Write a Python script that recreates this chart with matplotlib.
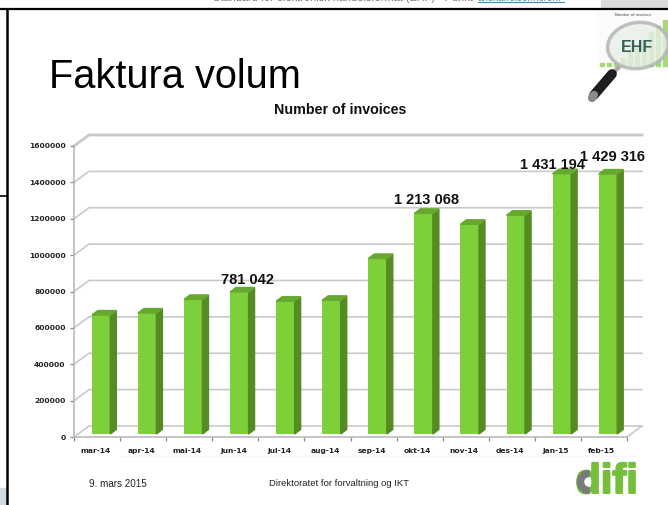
import matplotlib
matplotlib.use("Agg")
import matplotlib.pyplot as plt
import matplotlib.patheffects as pe
from matplotlib.patches import Ellipse, Rectangle, Wedge, Polygon

months = ["mar-14", "apr-14", "mai-14", "jun-14", "jul-14", "aug-14",
          "sep-14", "okt-14", "nov-14", "des-14", "jan-15", "feb-15"]
invoices = [654000, 665000, 740000, 781042, 730000, 735000,
            965000, 1213068, 1153000, 1203000, 1431194, 1429316]
y_ticks = [0, 200000, 400000, 600000, 800000, 1000000, 1200000, 1400000, 1600000]

# only these bars carry a label, with the offset (px) they were dragged to in the slide
labelled = {"jun-14": "781 042", "okt-14": "1 213 068", "jan-15": "1 431 194", "feb-15": "1 429 316"}
label_shift = {"jun-14": (8, 12), "okt-14": (3, 13), "jan-15": (-9, 9), "feb-15": (5, 17)}

W, H = 668, 505
LEFT, RIGHT, BOTTOM, TOP = 74, 627, 437, 146
GRID = "#c9c9c9"
FRONT, SIDE, CAP = "#7ed03a", "#558b23", "#67a92e"

plt.rcParams["font.family"] = ["Liberation Sans", "DejaVu Sans"]


def draw_page(page):
    # slide frame and the bits of the document around it
    page.plot([7, 7], [9, 505], color="black", lw=1.8)
    page.plot([0, 668], [9, 9], color="black", lw=1.6)
    page.plot([0, 7], [196, 196], color="black", lw=1.2)
    page.add_patch(Rectangle((0, 488), 6, 17, color="#d3d9e3"))
    page.add_patch(Rectangle((601, 0), 67, 8, color="#dcdcdc"))
    page.plot([121, 635], [456, 456], color="#f6f6f6", lw=1)

    page.text(213, -2, "Standard for elektronisk handelsformat (EHF) - Punkt", fontsize=7.9,
              color="#777777", va="center", ha="left", clip_on=True)
    page.text(478, -2, "anskaffelser.no/ehf", fontsize=7.2, color="#4a8ab0", va="center", clip_on=True)
    page.plot([478, 564], [2, 2], color="#4a8ab0", lw=0.8)

    page.text(49, 88, "Faktura volum", fontsize=28.6, color="black", va="baseline")
    page.text(340, 110, "Number of invoices", fontsize=10.3, fontweight="bold", color="#111111",
              ha="center", va="center")
    page.text(89, 484, "9. mars 2015", fontsize=7.1, color="#222222", va="center")
    page.text(269, 484, "Direktoratet for forvaltning og IKT", fontsize=6.8, color="#222222", va="center")


def draw_magnifier(page):
    # small faded chart behind the glass
    page.add_patch(Rectangle((597, 12), 71, 58, color="#fbfbfb", zorder=1))
    page.text(633, 15, "Number of invoices", fontsize=2.8, fontweight="bold", color="#777777",
              ha="center", va="center", zorder=1)
    for i, h in enumerate([3, 3, 3, 8, 14, 20, 26, 34, 40, 46]):
        page.add_patch(Rectangle((600 + i * 7, 66 - h), 3.5, h, color="#a9d97f", zorder=1))
    page.add_patch(Ellipse((638, 45.5), 61, 46, angle=-8, facecolor="#e9efe9", edgecolor="#b0b0b0",
                           lw=2.5, alpha=0.78, zorder=2))
    page.plot([618, 611], [68, 75], color="#a8a8a8", lw=3, zorder=3)
    page.plot([612, 594], [74, 95], color="#1e1e1e", lw=7, solid_capstyle="round", zorder=3)
    page.plot([594, 592], [95, 98], color="#8a8a8a", lw=6, solid_capstyle="round", zorder=4)
    page.text(637, 48, "EHF", fontsize=11.5, fontweight="bold", color="#33605a",
              ha="center", va="center", zorder=5)


def draw_logo(page):
    logo = page.text(638, 493, "difi", fontsize=30, fontweight="bold",
                     color="#75bf3a", ha="right", va="baseline")
    logo.set_path_effects([pe.withStroke(linewidth=1.4, foreground="#75bf3a")])
    page.add_patch(Wedge((589, 482), 11.5, 90, 270, width=6, color="#7a7a7a", zorder=4))


def draw_chart(ax):
    ax.set_xlim(-0.5, len(months) - 0.5)
    ax.set_ylim(0, y_ticks[-1])

    # px -> data units
    ux = len(months) / (RIGHT - LEFT)
    uy = y_ticks[-1] / (BOTTOM - TOP)
    wall_x, wall_y = 15 * ux, 11 * uy
    x0, x1 = -0.5, len(months) - 0.5

    for v in y_ticks:
        lw = 2 if v == y_ticks[-1] else 1.2
        ax.plot([x0, x0 + wall_x, x1 + wall_x], [v, v + wall_y, v + wall_y],
                color=GRID, lw=lw, clip_on=False, zorder=1, solid_joinstyle="miter")
    ax.plot([x1, x1 + wall_x], [0, wall_y], color=GRID, lw=1.2, clip_on=False, zorder=1)

    shift = 4 * ux
    width = 18.5 * ux
    side_x, side_y = 6 * ux, 4.5 * uy
    lift = 3 * uy
    xs = [i + shift for i in range(len(months))]

    ax.bar(xs, invoices, width=width, bottom=lift, color=FRONT, zorder=3)
    for x, v in zip(xs, invoices):
        r = x + width / 2
        l = x - width / 2
        top = v + lift
        ax.add_patch(Polygon([(r, lift), (r + side_x, lift + side_y), (r + side_x, top + side_y), (r, top)],
                             closed=True, color=SIDE, zorder=3, clip_on=False))
        ax.add_patch(Polygon([(l, top), (l + side_x, top + side_y), (r + side_x, top + side_y), (r, top)],
                             closed=True, color=CAP, zorder=3, clip_on=False))

    for x, month, v in zip(xs, months, invoices):
        if month in labelled:
            dx, dy = label_shift[month]
            ax.annotate(labelled[month], (x, v + lift), xytext=(dx, dy),
                        textcoords="offset pixels", fontsize=10.5, fontweight="bold",
                        color="#111111", ha="center", va="center", zorder=6, annotation_clip=False)

    for side in ["top", "right"]:
        ax.spines[side].set_visible(False)
    for side in ["left", "bottom"]:
        ax.spines[side].set_color("#b5b5b5")
        ax.spines[side].set_linewidth(1.1)
    ax.patch.set_alpha(0)

    ax.set_yticks(y_ticks)
    ax.set_yticklabels([str(v) for v in y_ticks], fontsize=5.4, fontweight="bold",
                       family="DejaVu Sans", color="#222222")
    ax.set_xticks([i - 0.5 for i in range(len(months) + 1)])
    ax.set_xticklabels([])
    ax.tick_params(axis="both", length=3, width=0.9, color="#8a8a8a", pad=3)
    for i, month in enumerate(months):
        ax.annotate(month, (i, 0), xytext=(-2, -14), textcoords="offset pixels", fontsize=5.4,
                    fontweight="bold", family="DejaVu Sans", color="#222222", ha="center",
                    va="center", annotation_clip=False)


def main():
    fig = plt.figure(figsize=(W / 100, H / 100), dpi=100)

    page = fig.add_axes([0, 0, 1, 1])
    page.set_xlim(0, W)
    page.set_ylim(H, 0)
    page.axis("off")
    draw_page(page)
    draw_magnifier(page)
    draw_logo(page)

    ax = fig.add_axes([LEFT / W, 1 - BOTTOM / H, (RIGHT - LEFT) / W, (BOTTOM - TOP) / H])
    draw_chart(ax)

    fig.savefig("out.png", dpi=100)


if __name__ == "__main__":
    main()
